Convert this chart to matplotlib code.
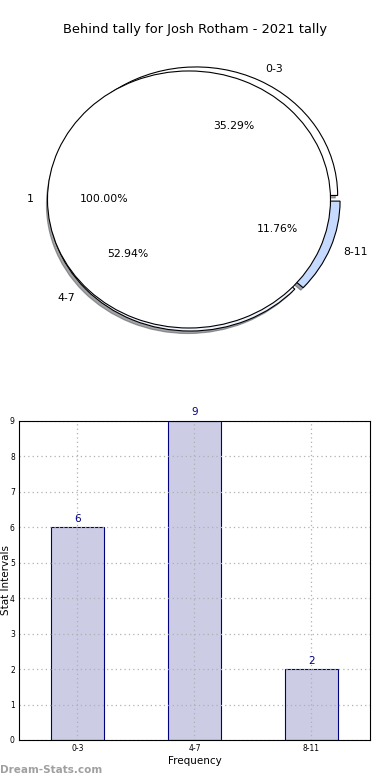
"""
Behind tally pie + frequency bar chart for Josh Rotham (2021).
"""
import matplotlib
matplotlib.use('Agg')
import matplotlib.pyplot as plt

title = 'Behind tally for Josh Rotham - 2021 tally'

# outer ring: stat intervals
interval_labels = ['0-3', '4-7', '8-11']
interval_counts = [6, 9, 2]
interval_colors = ['#ffffff', '#eef3ff', '#c6d9ff']

# inner pie: single group
inner_labels = ['1']
inner_counts = [1]

fig = plt.figure(figsize=(3.9, 7.8), dpi=100)

# ---- pie ----
ax1 = fig.add_axes([0.0438, 0.5383, 0.907, 0.4119])
ax1.pie(interval_counts, labels=interval_labels, colors=interval_colors,
        explode=[0.035] * len(interval_counts), autopct='%1.2f%%',
        shadow={'ox': -0.012, 'oy': -0.014}, startangle=0, counterclock=True,
        wedgeprops=dict(edgecolor='black', linewidth=0.8),
        textprops=dict(fontsize=7.8))
ax1.pie(inner_counts, labels=inner_labels, colors=['white'],
        explode=[0.035], autopct='%1.2f%%', shadow=False, startangle=0,
        wedgeprops=dict(edgecolor='black', linewidth=0.8),
        textprops=dict(fontsize=7.8))
ax1.set_aspect('auto')
ax1.set_xlim(-1.25, 1.25)
ax1.set_ylim(-1.25, 1.25)
ax1.axis('off')

fig.text(0.5, 1 - 30 / 780, title, ha='center', va='center', fontsize=9.4)

# ---- bars ----
ax2 = fig.add_axes([0.0487, 0.0513, 0.9, 0.409])
x = list(range(len(interval_labels)))
ax2.bar(x, interval_counts, width=0.45, color='#ccccE5', edgecolor='navy',
        linewidth=0.8, zorder=1)
for xi, v in zip(x, interval_counts):
    ax2.text(xi, v + 0.1, str(v), ha='center', va='bottom', color='navy',
             fontsize=7.5)
ax2.set_xlim(-0.5, 2.5)
ax2.set_ylim(0, 9)
ax2.set_xticks(x)
ax2.set_xticklabels(interval_labels)
ax2.set_yticks(range(10))
ax2.tick_params(labelsize=5.5, length=0, pad=3)
ax2.grid(True, linestyle=(0, (1, 2.5)), color='#b0b0b0', linewidth=0.9,
         zorder=3)
ax2.set_axisbelow(False)
ax2.set_xlabel('Frequency', fontsize=7.5, labelpad=2)
ax2.set_ylabel('Stat Intervals', fontsize=7.5)
ax2.yaxis.set_label_coords(-8 / 351, 0.5)
for s in ax2.spines.values():
    s.set_linewidth(0.8)
    s.set_zorder(5)

fig.text(0.0, 1 - 770 / 780, 'Dream-Stats.com', ha='left', va='center',
         fontsize=7.5, color='#a0a0a0', fontweight='bold')

plt.savefig('out.png', dpi=100)
plt.close(fig)
